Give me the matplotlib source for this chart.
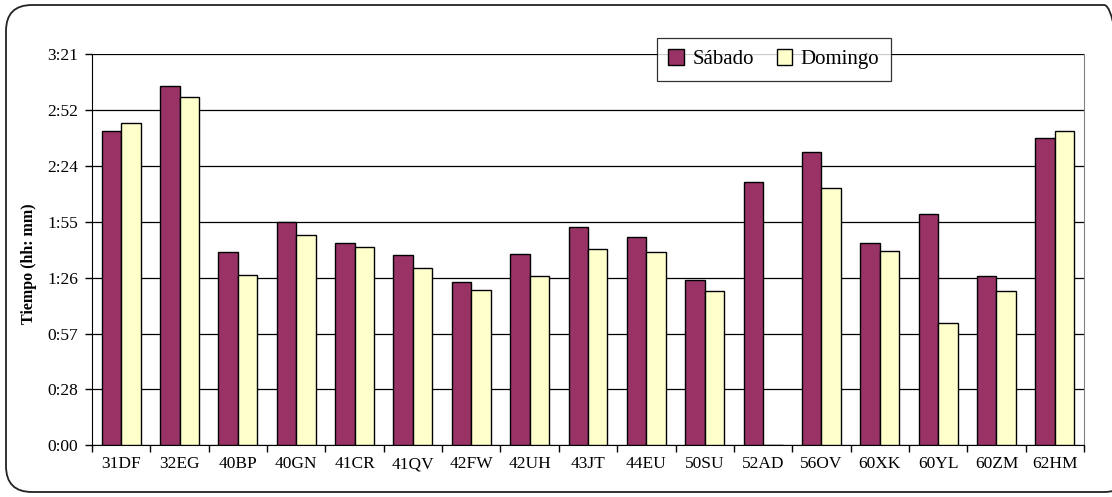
import matplotlib
matplotlib.use("Agg")
import matplotlib.pyplot as plt
from matplotlib.patches import FancyBboxPatch
from matplotlib.transforms import IdentityTransform
from matplotlib.ticker import FixedLocator, FuncFormatter
import numpy as np

categories = ["31DF", "32EG", "40BP", "40GN", "41CR", "41QV", "42FW", "42UH", "43JT",
              "44EU", "50SU", "52AD", "56OV", "60XK", "60YL", "60ZM", "62HM"]
# values in minutes
sabado = [161.8, 185.3, 99.4, 115.0, 104.4, 97.9, 84.0, 98.6, 112.4,
          107.5, 85.0, 135.8, 150.9, 104.4, 119.0, 87.4, 158.5]
domingo = [165.9, 179.4, 87.6, 108.2, 102.0, 91.3, 80.2, 87.4, 101.1,
           99.6, 79.3, 0.0, 132.7, 100.3, 63.0, 79.3, 161.9]
series_names = ["Sábado", "Domingo"]
ymax = 201.6
ystep = 28.8

plt.rcParams['font.family'] = ['Liberation Serif', 'DejaVu Serif']

fig = plt.figure(figsize=(11.12, 4.97), dpi=100)
W, H = 1112, 497
ax = fig.add_axes([92 / W, 1 - 445.3 / H, (1084 - 92) / W, (445.3 - 54) / H])

# rounded frame (pixel coordinates, origin bottom-left)
frame = FancyBboxPatch((6, H - 492), 1130 - 6, 492 - 5,
                       boxstyle="round,pad=0,rounding_size=26",
                       transform=IdentityTransform(), facecolor="none",
                       edgecolor="#222222", linewidth=1.3)
fig.patches.append(frame)

x = np.arange(len(categories))
bw = 1 / 3
ax.bar(x - bw / 2, sabado, bw, color="#993366", edgecolor="black", linewidth=1.0,
       label=series_names[0], zorder=3)
ax.bar(x + bw / 2, domingo, bw, color="#FFFFCC", edgecolor="black", linewidth=1.0,
       label=series_names[1], zorder=3)

ax.set_xlim(-0.5, len(categories) - 0.5)
ax.set_ylim(0, ymax)

yt = [i * ystep for i in range(8)]
ax.yaxis.set_major_locator(FixedLocator(yt))


def fmt(v, pos):
    m = int(v + 1e-6)
    return f"{m // 60}:{m % 60:02d}"


ax.yaxis.set_major_formatter(FuncFormatter(fmt))
ax.grid(axis="y", color="black", linewidth=0.9, zorder=0)

ax.set_xticks(x)
ax.set_xticklabels(categories)
ax.tick_params(axis="x", length=0, pad=8, labelsize=12.5)
ax.set_xticks(np.arange(-0.5, len(categories), 1), minor=True)
ax.tick_params(axis="x", which="minor", length=5, width=1, color="black", direction="out")
ax.tick_params(axis="y", length=5, width=1, direction="out", labelsize=12.5, pad=5)

ax.spines["top"].set_visible(False)
ax.spines["right"].set_color("#808080")
ax.spines["left"].set_color("black")
ax.spines["bottom"].set_color("black")

ax.set_ylabel("Tiempo (hh: mm)", fontweight="bold", fontsize=11.5)
ax.yaxis.set_label_coords((29 - 92) / (1084 - 92), (445.3 - 263.5) / (445.3 - 54))
ax.yaxis.label.set_verticalalignment("center")

leg = ax.legend(loc="upper left", bbox_to_anchor=((657 - 92) / (1084 - 92), 1 + (54 - 38) / (445.3 - 54)),
                ncol=2, frameon=True, fancybox=False, edgecolor="black", fontsize=15,
                handlelength=0.75, handleheight=0.75, handletextpad=0.4, columnspacing=1.1,
                borderpad=0.55, borderaxespad=0)
leg.get_frame().set_linewidth(0.9)
leg.set_zorder(5)

fig.savefig("out.png", dpi=100)
